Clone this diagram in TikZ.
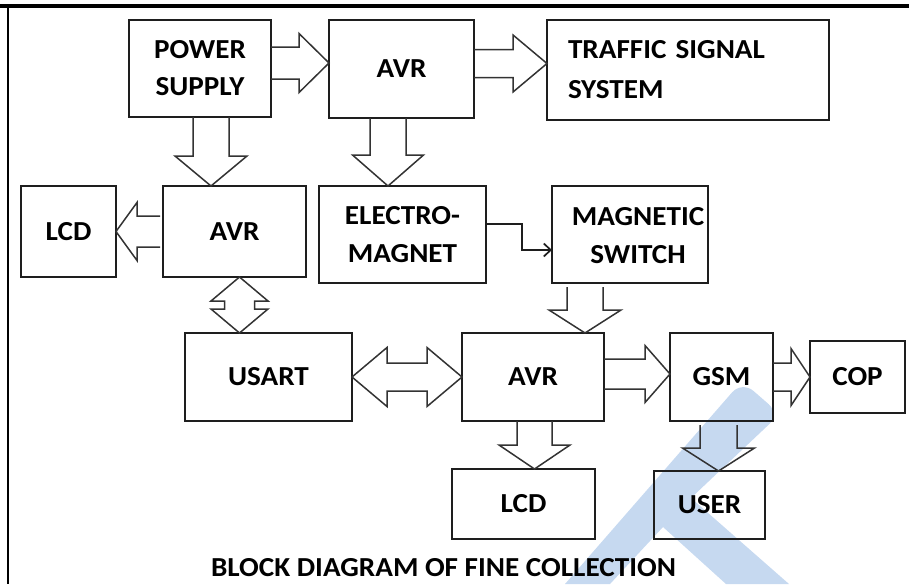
\documentclass[tikz,border=0pt]{standalone}
\usepackage{fontspec}
\newfontfamily\lblfont{Carlito}[FakeStretch=1.06]
\usetikzlibrary{calc,arrows.meta}
\definecolor{wmblue}{HTML}{C6D9F0}
\definecolor{boxline}{HTML}{1E1E1E}
\definecolor{arrline}{HTML}{333333}
\tikzset{
  box/.style={draw=boxline, line width=1.6pt, inner sep=0pt, outer sep=0pt, align=center,
    font=\lblfont\bfseries\fontsize{27.5}{37}\selectfont},
  lbl/.style={inner sep=0pt, align=center, font=\lblfont\bfseries\fontsize{27.5}{37}\selectfont},
  barrowline/.style={draw=arrline, line width=1.5pt, line join=miter},
  elbow/.style={draw=boxline, line width=1.7pt, -{Straight Barb[length=7pt,width=13pt,line width=1.7pt]}},
}
\newcommand\barw[5]{%
  \coordinate (ba-s) at (#1); \coordinate (ba-t) at (#2);
  \coordinate (ba-b) at ($(ba-t)!#5!(ba-s)$);
  \draw[barrowline] ($(ba-s)!#3!90:(ba-t)$) -- ($(ba-b)!#3!90:(ba-t)$) -- ($(ba-b)!#4!90:(ba-t)$)
    -- (ba-t) -- ($(ba-b)!#4!-90:(ba-t)$) -- ($(ba-b)!#3!-90:(ba-t)$) -- ($(ba-s)!#3!-90:(ba-t)$);
}
\newcommand\dbarw[5]{%
  \coordinate (da-a) at (#1); \coordinate (da-c) at (#2);
  \coordinate (da-p) at ($(da-a)!#5!(da-c)$);
  \coordinate (da-q) at ($(da-c)!#5!(da-a)$);
  \draw[barrowline] (da-a) -- ($(da-p)!#4!90:(da-c)$) -- ($(da-p)!#3!90:(da-c)$)
    -- ($(da-q)!#3!-90:(da-a)$) -- ($(da-q)!#4!-90:(da-a)$) -- (da-c)
    -- ($(da-q)!#4!90:(da-a)$) -- ($(da-q)!#3!90:(da-a)$)
    -- ($(da-p)!#3!-90:(da-c)$) -- ($(da-p)!#4!-90:(da-c)$) -- cycle;
}
\begin{document}
\begin{tikzpicture}[x=1pt,y=-1pt]
\useasboundingbox (0,0) rectangle (909,584);
% watermark stroke
\fill[wmblue] (565,584) [rounded corners=15pt] -- (742,381) -- (780,414) [sharp corners] -- (691,498)
  -- (789,584) -- (726,584) -- (663,527) -- (610,584) -- cycle;
% frame
\draw[line width=3.8pt] (0,6) -- (909,6);
\draw[line width=2pt] (8.3,6) -- (8.3,584);
% boxes
\node[box, minimum width=142pt, minimum height=97pt] (ps) at (200,68.5) {POWER\\SUPPLY};
\node[box, minimum width=145pt, minimum height=98pt] (avr1) at (401.5,69) {AVR};
\node[box, minimum width=282pt, minimum height=100pt, text width=240pt, align=left,
  font=\lblfont\bfseries\fontsize{27.5}{40}\selectfont] (tss) at (688,70) {TRAFFIC SIGNAL\\SYSTEM};
\node[box, minimum width=95pt, minimum height=91pt] (lcd1) at (68.5,231.5) {LCD};
\node[box, minimum width=143pt, minimum height=91pt] (avr2) at (234.5,231.5) {AVR};
\node[box, minimum width=167pt, minimum height=97pt,
  font=\lblfont\bfseries\fontsize{27.5}{38}\selectfont] (em) at (402.5,234.5) {ELECTRO-\\MAGNET};
\node[box, minimum width=156pt, minimum height=97pt] (ms) at (630,234.5) {};
\node[lbl, font=\lblfont\bfseries\fontsize{27.5}{38}\selectfont] (mstext) at ($(ms.center)+(8,1)$) {MAGNETIC\\SWITCH};
\node[box, minimum width=167pt, minimum height=88pt] (usart) at (268.5,377) {USART};
\node[box, minimum width=142pt, minimum height=88pt] (avr3) at (533,377) {AVR};
\node[box, minimum width=103pt, minimum height=88pt] (gsm) at (721.5,377) {GSM};
\node[box, minimum width=95pt, minimum height=72pt] (cop) at (857.5,377) {COP};
\node[box, minimum width=143pt, minimum height=70pt] (lcd3) at (523.5,504) {LCD};
\node[box, minimum width=111pt, minimum height=68pt] (user) at (709.5,505) {USER};
% caption
\node[lbl] (cap) at (443.5,567.5) {BLOCK DIAGRAM OF FINE COLLECTION};
% block arrows
\barw{$(ps.east)+(0,-5.5)$}{$(avr1.west)+(0,-6)$}{16pt}{29.5pt}{30pt}
\barw{$(avr1.east)+(0,-5.5)$}{$(tss.west)+(0,-6.5)$}{14pt}{28.5pt}{34pt}
\barw{$(ps.south)+(11,0)$}{$(avr2.north)+(-23.5,0)$}{18pt}{36pt}{30pt}
\barw{$(avr1.south)+(-13.5,0)$}{$(em.north)+(-14.5,0)$}{18pt}{35.5pt}{31pt}
\barw{$(avr2.west)+(-3,0)$}{lcd1.east}{15.5pt}{29pt}{21pt}
\dbarw{$(avr2.south)+(5,0)$}{$(usart.north)+(-29,0)$}{15pt}{28.5pt}{24pt}
\dbarw{usart.east}{avr3.west}{14pt}{29.5pt}{35pt}
\barw{$(ms.south)+(-45,4)$}{$(avr3.north)+(52,0)$}{18pt}{36pt}{23pt}
\barw{$(avr3.east)+(0,-3)$}{$(gsm.west)+(0,-3)$}{15pt}{28.5pt}{25pt}
\barw{gsm.east}{cop.west}{14pt}{28.5pt}{19pt}
\barw{$(avr3.south)+(1.5,0)$}{$(lcd3.north)+(11,0)$}{17.5pt}{35.5pt}{24pt}
\barw{$(gsm.south)+(-3,4)$}{$(user.north)+(9,0)$}{18.5pt}{36pt}{23pt}
% elbow connector
\draw[elbow] ($(em.east)+(0,-10.5)$) -- ++(36,0) |- ($(ms.west)+(0,15.5)$);
\end{tikzpicture}
\end{document}
